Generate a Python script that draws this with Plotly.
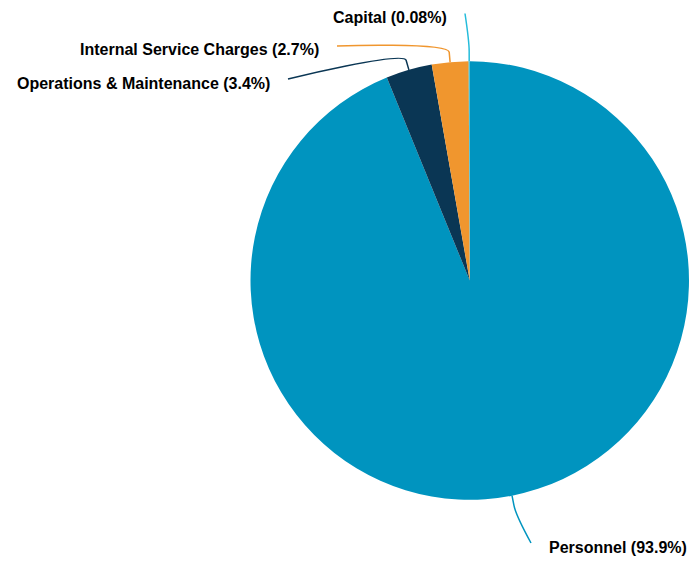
import math
import plotly.graph_objects as go

# ---- data ----
categories = ["Personnel", "Operations & Maintenance", "Internal Service Charges", "Capital"]
values = [93.9, 3.4, 2.7, 0.08]
pct_labels = ["93.9%", "3.4%", "2.7%", "0.08%"]
colors = ["#0094BF", "#0A3654", "#F0962E", "#24BCDB"]

# ---- layout constants (pixels) ----
W, H = 689, 561
left_edge, right_edge = 250.5, 689.0
cy = 280.5
r = (right_edge - left_edge) / 2
cx = left_edge + r

# label anchor positions (pixels) and alignment
label_x = [547, 272, 321, 449]
label_y = [547, 83, 50, 17.5]
label_align = ["left", "right", "right", "right"]
conn_gap = 16
conn_dy = -4
break_dist = 10

fig = go.Figure()
fig.add_trace(go.Pie(
    labels=categories,
    values=values,
    marker=dict(colors=colors, line=dict(width=0)),
    sort=False,
    direction="clockwise",
    rotation=0,
    textinfo="none",
    showlegend=False,
    domain=dict(
        x=[left_edge / W, right_edge / W],
        y=[(H - cy - r) / H, (H - cy + r) / H],
    ),
))

def px2paper(x, y):
    return x / W, 1 - y / H

total = sum(values)
cum = 0.0
shapes = []
annotations = []
for name, v, p, col, lx, ly, al in zip(categories, values, pct_labels, colors,
                                         label_x, label_y, label_align):
    mid = (cum + v / 2) / total * 2 * math.pi
    cum += v
    tx, ty = cx + r * math.sin(mid), cy - r * math.cos(mid)
    bx, by = cx + (r + break_dist) * math.sin(mid), cy - (r + break_dist) * math.cos(mid)
    c2x, c2y = 2 * bx - tx, 2 * by - ty
    ex = lx - conn_gap if al == "left" else lx + conn_gap
    ey = ly + conn_dy
    pts = [(ex, ey), (ex, ey), (c2x, c2y), (bx, by), (tx, ty)]
    pp = [px2paper(*q) for q in pts]
    path = (f"M {pp[0][0]},{pp[0][1]} C {pp[1][0]},{pp[1][1]} {pp[2][0]},{pp[2][1]} "
            f"{pp[3][0]},{pp[3][1]} L {pp[4][0]},{pp[4][1]}")
    shapes.append(dict(type="path", xref="paper", yref="paper", path=path,
                       line=dict(color=col, width=1.5)))
    ax_, ay_ = px2paper(lx, ly)
    annotations.append(dict(
        x=ax_, y=ay_, xref="paper", yref="paper",
        text=f"{name} ({p})", showarrow=False,
        xanchor=al, yanchor="middle",
        font=dict(family="Arial, Liberation Sans, sans-serif", size=16,
                  color="#000000", weight="bold"),
    ))

fig.update_layout(
    width=W, height=H,
    margin=dict(l=0, r=0, t=0, b=0),
    paper_bgcolor="white",
    plot_bgcolor="white",
    shapes=shapes,
    annotations=annotations,
    font=dict(family="Arial, Liberation Sans, sans-serif"),
)

fig.write_html("out.html")
